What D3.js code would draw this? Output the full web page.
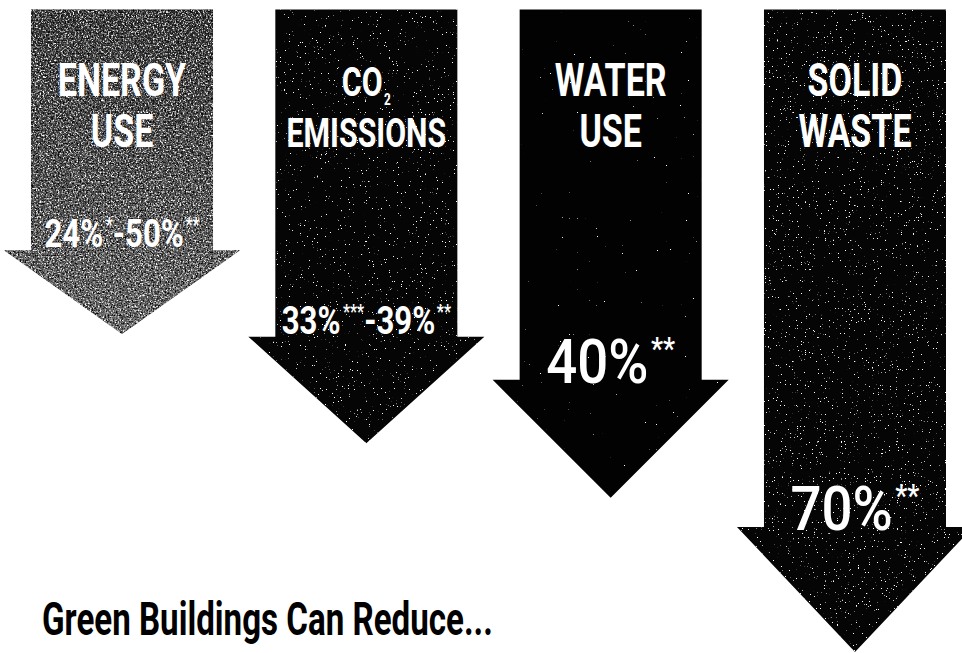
<!DOCTYPE html>
<html><head><meta charset="utf-8">
<script src="https://cdn.jsdelivr.net/npm/d3@7"></script>
<style>html,body{margin:0;padding:0;background:#fff;} svg{display:block;}</style>
</head><body>
<script>
// ---- data ----
const categories = ["ENERGY USE", "CO2 EMISSIONS", "WATER USE", "SOLID WASTE"];
const headingTop = ["ENERGY", "CO", "WATER", "SOLID"];
const headingSub = ["", "2", "", ""];
const headingBottom = ["USE", "EMISSIONS", "USE", "WASTE"];
const lowValues = [24, 33, 40, 70];
const highValues = [50, 39, null, null];
const lowNotes = ["*", "***", "**", "**"];
const highNotes = ["**", "**", "", ""];
// relative arrow reach (longest arrow = 1), as drawn in the picture
const arrowReach = [0.505, 0.675, 0.76, 1.0];
const title = "Green Buildings Can Reduce...";

// ---- styles ----
const arrowStyle = {
  "ENERGY USE":   {grad: ["#2c2c2c", "#454545", "#666666"], white: [3.2, -1.42], black: [3.2, -1.5], freq: 0.6},
  "CO2 EMISSIONS":{fill: "#050505", white: [20, -14.6], black: null, freq: 0.75},
  "WATER USE":    {fill: "#020202", white: [20, -16.4], black: null, freq: 0.75},
  "SOLID WASTE":  {fill: "#050505", white: [20, -14.5], black: null, freq: 0.75}
};
const headingSize = {"ENERGY USE": 46, "CO2 EMISSIONS": 41, "WATER USE": 46, "SOLID WASTE": 46};
const FONT = "Roboto, 'DejaVu Sans', sans-serif";

const W = 962, H = 653;
const svg = d3.select("body").append("svg").attr("width", W).attr("height", H);
svg.append("rect").attr("width", W).attr("height", H).attr("fill", "#fff");
const defs = svg.append("defs");

const x = d3.scaleBand().domain(categories).range([31, 946]).paddingInner(0.255).paddingOuter(0);
const y = d3.scaleLinear().domain([0, 1]).range([9.5, 652]);
const headDepth = d3.scaleLinear().domain([0.5, 0.76, 1]).range([83, 118, 125]);
const overhang = 27;

function makeFilter(id, km, seed, freq, white) {
  const f = defs.append("filter").attr("id", id)
    .attr("filterUnits", "userSpaceOnUse").attr("x", 0).attr("y", 0).attr("width", W).attr("height", H)
    .attr("color-interpolation-filters", "sRGB");
  f.append("feTurbulence").attr("type", "fractalNoise").attr("baseFrequency", freq)
    .attr("numOctaves", 3).attr("seed", seed).attr("result", "n");
  const c = white ? 1 : 0;
  f.append("feColorMatrix").attr("in", "n").attr("type", "matrix")
    .attr("values", `0 0 0 0 ${c} 0 0 0 0 ${c} 0 0 0 0 ${c} ${km[0]} 0 0 0 ${km[1]}`).attr("result", "a");
  f.append("feComposite").attr("in", "a").attr("in2", "SourceGraphic").attr("operator", "in");
}

function arrowPath(i) {
  const c = categories[i];
  const x0 = x(c), x1 = x(c) + x.bandwidth(), cx = x0 + x.bandwidth() / 2;
  const top = y(0), tip = y(arrowReach[i]), ht = tip - headDepth(arrowReach[i]);
  const p = d3.path();
  p.moveTo(x0, top); p.lineTo(x1, top); p.lineTo(x1, ht); p.lineTo(x1 + overhang, ht);
  p.lineTo(cx, tip); p.lineTo(x0 - overhang, ht); p.lineTo(x0, ht); p.closePath();
  return p.toString();
}

categories.forEach((c, i) => {
  const st = arrowStyle[c];
  const g = svg.append("g");
  const d = arrowPath(i);
  let fill = st.fill;
  if (st.grad) {
    const lg = defs.append("linearGradient").attr("id", "g" + i).attr("x1", 0).attr("y1", 0).attr("x2", 0).attr("y2", 1);
    st.grad.forEach((col, k) => lg.append("stop").attr("offset", k / (st.grad.length - 1)).attr("stop-color", col));
    fill = `url(#g${i})`;
  }
  g.append("path").attr("d", d).attr("fill", fill);
  if (st.white) {
    makeFilter("w" + i, st.white, 7 + i * 3, st.freq, true);
    g.append("path").attr("d", d).attr("fill", "#000").attr("filter", `url(#w${i})`);
  }
  if (st.black) {
    makeFilter("b" + i, st.black, 41 + i, st.freq, false);
    g.append("path").attr("d", d).attr("fill", "#000").attr("filter", `url(#b${i})`);
  }

  const cx = x(c) + x.bandwidth() / 2;
  const top = y(0);
  const hs = headingSize[c];
  const sub = headingSub[i];
  // heading: two lines inside one text element
  const ht = g.append("text")
    .attr("transform", `translate(${cx},${top + 86}) scale(0.74,1)`)
    .attr("text-anchor", "middle").attr("font-family", FONT)
    .attr("font-weight", 700).attr("font-size", hs).attr("fill", "#fff");
  ht.append("tspan").attr("x", 0).attr("y", 0).text(headingTop[i]);
  if (sub) {
    ht.append("tspan").attr("font-size", 16).attr("dy", 9).attr("dx", 2).text(sub);
  }
  ht.append("tspan").attr("x", 0).attr("y", sub ? 52 : 51.5).text(headingBottom[i]);

  // percentage label
  const isRange = highValues[i] !== null;
  const F = isRange ? 39 : 62;
  const sx = isRange ? 0.8 : 0.88;
  const fSmall = F * 0.5;
  const raise = F * 0.38;
  const headTop = y(arrowReach[i]) - headDepth(arrowReach[i]);
  const base = headTop + (isRange ? -3 : 3);
  const pt = g.append("text")
    .attr("transform", `translate(${cx},${base}) scale(${sx},1)`)
    .attr("text-anchor", "middle").attr("font-family", FONT)
    .attr("font-weight", isRange ? 700 : 500).attr("font-size", F).attr("fill", "#fff");
  pt.append("tspan").text(lowValues[i] + "%");
  if (lowNotes[i]) pt.append("tspan").attr("font-size", fSmall).attr("dy", -raise).attr("dx", 3).text(lowNotes[i]);
  if (isRange) {
    pt.append("tspan").attr("dy", raise).text("-" + highValues[i] + "%");
    if (highNotes[i]) pt.append("tspan").attr("font-size", fSmall).attr("dy", -raise).attr("dx", 2).text(highNotes[i]);
  }
});

svg.append("text")
  .attr("transform", `translate(42,635) scale(0.72,1)`)
  .attr("font-family", FONT)
  .attr("font-weight", 700).attr("font-size", 46).attr("fill", "#000")
  .text(title);
</script>
</body></html>
